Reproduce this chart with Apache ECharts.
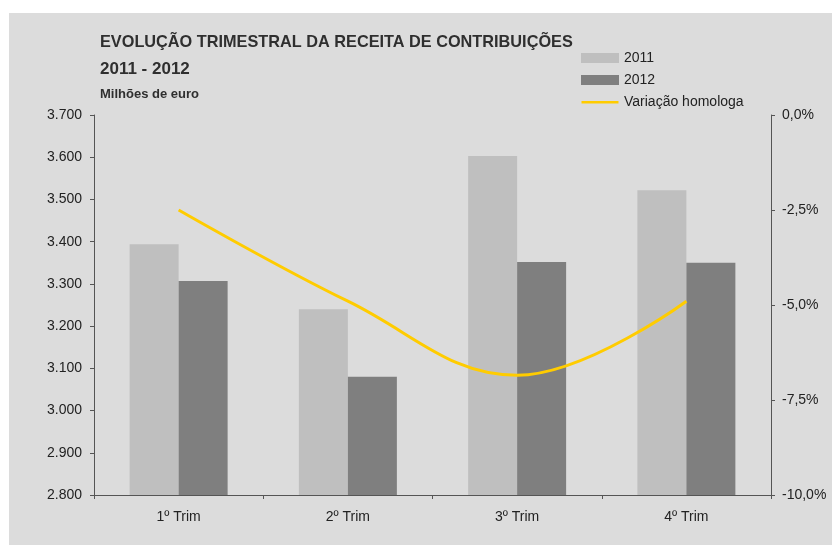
<!DOCTYPE html>
<html>
<head>
<meta charset="utf-8">
<script src="https://cdn.jsdelivr.net/npm/echarts@6/dist/echarts.min.js"></script>
<style>
  html, body { margin: 0; padding: 0; background: #fff; }
  #chart { width: 832px; height: 545px; }
</style>
</head>
<body>
<div id="chart"></div>
<script>
// dados
var categories = ['1º Trim', '2º Trim', '3º Trim', '4º Trim'];
var receita2011 = [3394, 3240, 3603, 3522];
var receita2012 = [3307, 3080, 3352, 3350];
var variacao = [-2.5, -4.9, -6.85, -4.9];

var font = 'Liberation Sans, Arial, sans-serif';
// icone de linha fina para a legenda (pontos minusculos nos cantos fixam a caixa)
var lineIcon = 'path://M0,0L0.01,0L0.01,0.01ZM0,4L37,4L37,6.6L0,6.6ZM0,10L0.01,10L0.01,9.99Z';

var chart = echarts.init(document.getElementById('chart'));

chart.setOption({
  backgroundColor: '#fff',
  animation: false,
  graphic: [
    {
      type: 'rect',
      z: -100,
      silent: true,
      shape: { x: 9, y: 13, width: 823, height: 532 },
      style: { fill: '#dcdcdc' }
    },
    {
      type: 'text',
      left: 100, top: 35,
      style: {
        text: 'EVOLUÇÃO TRIMESTRAL DA RECEITA DE CONTRIBUIÇÕES',
        font: 'bold 16.3px "Liberation Sans", sans-serif',
        fill: '#2f2f2f'
      }
    },
    {
      type: 'text',
      left: 100, top: 61,
      style: {
        text: '2011 - 2012',
        font: 'bold 17px "Liberation Sans", sans-serif',
        fill: '#2f2f2f'
      }
    },
    {
      type: 'text',
      left: 100, top: 88,
      style: {
        text: 'Milhões de euro',
        font: 'bold 13px "Liberation Sans", sans-serif',
        fill: '#2f2f2f'
      }
    }
  ],
  legend: {
    orient: 'vertical',
    left: 576,
    top: 45,
    itemWidth: 38,
    itemHeight: 10,
    itemGap: 6,
    textStyle: { fontFamily: font, fontSize: 14, color: '#222', lineHeight: 16 },
    data: [
      { name: '2011', icon: 'rect' },
      { name: '2012', icon: 'rect' },
      { name: 'Variação homologa', icon: lineIcon, itemStyle: { color: '#ffcc00', borderWidth: 0 } }
    ]
  },
  grid: { left: 94, right: 61, top: 115, bottom: 50 },
  xAxis: {
    type: 'category',
    data: categories,
    axisLine: { onZero: false, lineStyle: { color: '#555', width: 1 } },
    axisTick: { show: true, length: 4, lineStyle: { color: '#555' } },
    axisLabel: { fontFamily: font, fontSize: 14, color: '#222', margin: 15 }
  },
  yAxis: [
    {
      type: 'value',
      min: 2800, max: 3700, interval: 100,
      splitLine: { show: false },
      axisLine: { show: true, lineStyle: { color: '#555' } },
      axisTick: { show: true, length: 4, lineStyle: { color: '#555' } },
      axisLabel: {
        fontFamily: font, fontSize: 14, color: '#222', margin: 12,
        formatter: function (v) { return (v / 1000).toFixed(3); }
      }
    },
    {
      type: 'value',
      min: -10, max: 0, interval: 2.5,
      splitLine: { show: false },
      axisLine: { show: true, lineStyle: { color: '#555' } },
      axisTick: { show: true, length: 4, lineStyle: { color: '#555' } },
      axisLabel: {
        fontFamily: font, fontSize: 14, color: '#222', margin: 11,
        formatter: function (v) { return v.toFixed(1).replace('.', ',') + '%'; }
      }
    }
  ],
  series: [
    {
      name: '2011',
      type: 'bar',
      data: receita2011,
      barWidth: 49,
      barGap: '0%',
      itemStyle: { color: '#bfbfbf' }
    },
    {
      name: '2012',
      type: 'bar',
      data: receita2012,
      barWidth: 49,
      itemStyle: { color: '#7f7f7f' }
    },
    {
      name: 'Variação homologa',
      type: 'line',
      yAxisIndex: 1,
      data: variacao,
      smooth: 0.4,
      symbol: 'none',
      lineStyle: { color: '#ffcc00', width: 3 },
      itemStyle: { color: '#ffcc00' }
    }
  ]
});
</script>
</body>
</html>
